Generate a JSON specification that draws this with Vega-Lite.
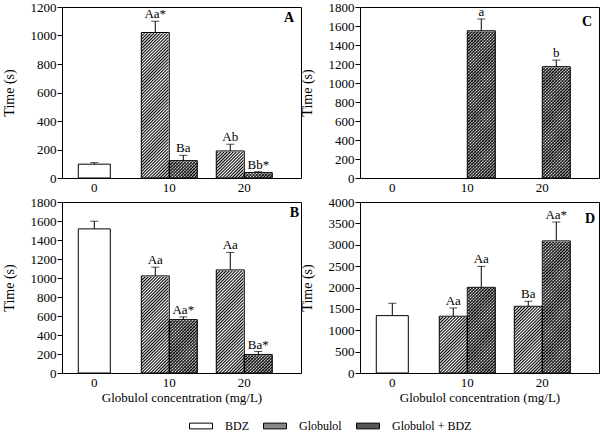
{
"$schema":"https://vega.github.io/schema/vega-lite/v6.json",
"background":"white",
"padding":{"left":1,"top":0,"right":2,"bottom":0},
"params":[{"name":"hatch","value":{"gradient":"linear","x1":0,"y1":0,"x2":0.1856,"y2":1.1334,"stops":[
{"offset":0,"color":"#000"},{"offset":0.0078,"color":"transparent"},{"offset":0.0156,"color":"#000"},{"offset":0.0234,"color":"transparent"},{"offset":0.0313,"color":"#000"},{"offset":0.0391,"color":"transparent"},{"offset":0.0469,"color":"#000"},{"offset":0.0547,"color":"transparent"},
{"offset":0.0625,"color":"#000"},{"offset":0.0703,"color":"transparent"},{"offset":0.0781,"color":"#000"},{"offset":0.0859,"color":"transparent"},{"offset":0.0938,"color":"#000"},{"offset":0.1016,"color":"transparent"},{"offset":0.1094,"color":"#000"},{"offset":0.1172,"color":"transparent"},
{"offset":0.125,"color":"#000"},{"offset":0.1328,"color":"transparent"},{"offset":0.1406,"color":"#000"},{"offset":0.1484,"color":"transparent"},{"offset":0.1563,"color":"#000"},{"offset":0.1641,"color":"transparent"},{"offset":0.1719,"color":"#000"},{"offset":0.1797,"color":"transparent"},
{"offset":0.1875,"color":"#000"},{"offset":0.1953,"color":"transparent"},{"offset":0.2031,"color":"#000"},{"offset":0.2109,"color":"transparent"},{"offset":0.2188,"color":"#000"},{"offset":0.2266,"color":"transparent"},{"offset":0.2344,"color":"#000"},{"offset":0.2422,"color":"transparent"},
{"offset":0.25,"color":"#000"},{"offset":0.2578,"color":"transparent"},{"offset":0.2656,"color":"#000"},{"offset":0.2734,"color":"transparent"},{"offset":0.2813,"color":"#000"},{"offset":0.2891,"color":"transparent"},{"offset":0.2969,"color":"#000"},{"offset":0.3047,"color":"transparent"},
{"offset":0.3125,"color":"#000"},{"offset":0.3203,"color":"transparent"},{"offset":0.3281,"color":"#000"},{"offset":0.3359,"color":"transparent"},{"offset":0.3438,"color":"#000"},{"offset":0.3516,"color":"transparent"},{"offset":0.3594,"color":"#000"},{"offset":0.3672,"color":"transparent"},
{"offset":0.375,"color":"#000"},{"offset":0.3828,"color":"transparent"},{"offset":0.3906,"color":"#000"},{"offset":0.3984,"color":"transparent"},{"offset":0.4063,"color":"#000"},{"offset":0.4141,"color":"transparent"},{"offset":0.4219,"color":"#000"},{"offset":0.4297,"color":"transparent"},
{"offset":0.4375,"color":"#000"},{"offset":0.4453,"color":"transparent"},{"offset":0.4531,"color":"#000"},{"offset":0.4609,"color":"transparent"},{"offset":0.4688,"color":"#000"},{"offset":0.4766,"color":"transparent"},{"offset":0.4844,"color":"#000"},{"offset":0.4922,"color":"transparent"},
{"offset":0.5,"color":"#000"},{"offset":0.5078,"color":"transparent"},{"offset":0.5156,"color":"#000"},{"offset":0.5234,"color":"transparent"},{"offset":0.5313,"color":"#000"},{"offset":0.5391,"color":"transparent"},{"offset":0.5469,"color":"#000"},{"offset":0.5547,"color":"transparent"},
{"offset":0.5625,"color":"#000"},{"offset":0.5703,"color":"transparent"},{"offset":0.5781,"color":"#000"},{"offset":0.5859,"color":"transparent"},{"offset":0.5938,"color":"#000"},{"offset":0.6016,"color":"transparent"},{"offset":0.6094,"color":"#000"},{"offset":0.6172,"color":"transparent"},
{"offset":0.625,"color":"#000"},{"offset":0.6328,"color":"transparent"},{"offset":0.6406,"color":"#000"},{"offset":0.6484,"color":"transparent"},{"offset":0.6563,"color":"#000"},{"offset":0.6641,"color":"transparent"},{"offset":0.6719,"color":"#000"},{"offset":0.6797,"color":"transparent"},
{"offset":0.6875,"color":"#000"},{"offset":0.6953,"color":"transparent"},{"offset":0.7031,"color":"#000"},{"offset":0.7109,"color":"transparent"},{"offset":0.7188,"color":"#000"},{"offset":0.7266,"color":"transparent"},{"offset":0.7344,"color":"#000"},{"offset":0.7422,"color":"transparent"},
{"offset":0.75,"color":"#000"},{"offset":0.7578,"color":"transparent"},{"offset":0.7656,"color":"#000"},{"offset":0.7734,"color":"transparent"},{"offset":0.7813,"color":"#000"},{"offset":0.7891,"color":"transparent"},{"offset":0.7969,"color":"#000"},{"offset":0.8047,"color":"transparent"},
{"offset":0.8125,"color":"#000"},{"offset":0.8203,"color":"transparent"},{"offset":0.8281,"color":"#000"},{"offset":0.8359,"color":"transparent"},{"offset":0.8438,"color":"#000"},{"offset":0.8516,"color":"transparent"},{"offset":0.8594,"color":"#000"},{"offset":0.8672,"color":"transparent"},
{"offset":0.875,"color":"#000"},{"offset":0.8828,"color":"transparent"},{"offset":0.8906,"color":"#000"},{"offset":0.8984,"color":"transparent"},{"offset":0.9063,"color":"#000"},{"offset":0.9141,"color":"transparent"},{"offset":0.9219,"color":"#000"},{"offset":0.9297,"color":"transparent"},
{"offset":0.9375,"color":"#000"},{"offset":0.9453,"color":"transparent"},{"offset":0.9531,"color":"#000"},{"offset":0.9609,"color":"transparent"},{"offset":0.9688,"color":"#000"},{"offset":0.9766,"color":"transparent"},{"offset":0.9844,"color":"#000"},{"offset":0.9922,"color":"transparent"},
{"offset":1,"color":"#000"}]}}],
"data":{"values":[
{"p":"A","c":"0","s":"BDZ","m":97,"h":108,"l":""},
{"p":"A","c":"10","s":"Globulol","m":1021,"h":1100,"l":"Aa*"},
{"p":"A","c":"10","s":"Globulol + BDZ","m":122,"h":159,"l":"Ba"},
{"p":"A","c":"20","s":"Globulol","m":190,"h":237,"l":"Ab"},
{"p":"A","c":"20","s":"Globulol + BDZ","m":38,"h":44,"l":"Bb*"},
{"p":"B","c":"0","s":"BDZ","m":1517,"h":1598,"l":""},
{"p":"B","c":"10","s":"Globulol","m":1022,"h":1114,"l":"Aa"},
{"p":"B","c":"10","s":"Globulol + BDZ","m":562,"h":590,"l":"Aa*"},
{"p":"B","c":"20","s":"Globulol","m":1085,"h":1269,"l":"Aa"},
{"p":"B","c":"20","s":"Globulol + BDZ","m":194,"h":226,"l":"Ba*"},
{"p":"C","c":"10","s":"Globulol + BDZ","m":1550,"h":1674,"l":"a"},
{"p":"C","c":"20","s":"Globulol + BDZ","m":1172,"h":1241,"l":"b"},
{"p":"D","c":"0","s":"BDZ","m":1342,"h":1631,"l":""},
{"p":"D","c":"10","s":"Globulol","m":1328,"h":1521,"l":"Aa"},
{"p":"D","c":"10","s":"Globulol + BDZ","m":2004,"h":2493,"l":"Aa"},
{"p":"D","c":"20","s":"Globulol","m":1561,"h":1678,"l":"Ba"},
{"p":"D","c":"20","s":"Globulol + BDZ","m":3090,"h":3532,"l":"Aa*"}
]},
"columns":2,
"bounds":"flush",
"spacing":{"row":24,"column":59},
"concat":[
{"width":239,"height":171,"title":{"text":"A","dx":-7,"offset":-24},
"transform":[{"filter":"datum.p==='A'"}],
"resolve":{"scale":{"xOffset":"independent"}},
"encoding":{"x":{"field":"c","type":"nominal","scale":{"domain":["0","10","20"],"paddingInner":0.253,"paddingOuter":0.22,"align":0.13},"axis":{"title":null}},
"y":{"field":"m","type":"quantitative","title":"Time (s)","scale":{"domain":[0,1200],"nice":false},"axis":{"values":[0,200,400,600,800,1000,1200],"format":"d","titleFontWeight":"normal"}}},
"layer":[
{"transform":[{"filter":"datum.s==='BDZ'"}],"mark":{"type":"bar","stroke":"black","strokeWidth":1},
 "encoding":{"xOffset":{"field":"s","scale":{"type":"band","domain":["BDZ"],"paddingInner":0,"paddingOuter":0.375}},"fill":{"field":"s","type":"nominal","scale":{"domain":["BDZ","Globulol","Globulol + BDZ"],"range":["white","#888","#555"]},
 "legend":{"title":null,"encode":{"symbols":{"update":{"fill":[{"test":"datum.value==='Globulol'","signal":"merge(hatch,{x2:8.1,y2:2.02})"},{"test":"datum.value==='Globulol + BDZ'","signal":"merge(hatch,{x2:4.05,y2:1.01})"},{"value":"white"}],"stroke":{"value":"black"}}}}}}}},
{"transform":[{"filter":"datum.s!=='BDZ'"}],"mark":{"type":"bar","fill":{"expr":"hatch"}},"encoding":{"xOffset":{"field":"s","scale":{"type":"band","domain":["Globulol","Globulol + BDZ"],"paddingInner":0,"paddingOuter":0}},"y":{"datum":0},"y2":{"datum":1188}}},
{"transform":[{"filter":"datum.s==='Globulol + BDZ'"}],"mark":{"type":"bar","fill":{"expr":"merge(hatch,{y1:1,y2:-0.1334})"},"opacity":0.6},"encoding":{"xOffset":{"field":"s","scale":{"type":"band","domain":["Globulol","Globulol + BDZ"],"paddingInner":0,"paddingOuter":0}},"y":{"datum":0},"y2":{"datum":1188}}},
{"transform":[{"filter":"datum.s!=='BDZ'"}],"mark":{"type":"bar","fill":"white","stroke":"white","strokeWidth":1.5},"encoding":{"xOffset":{"field":"s","scale":{"type":"band","domain":["Globulol","Globulol + BDZ"],"paddingInner":0,"paddingOuter":0}},"y2":{"datum":1188}}},
{"transform":[{"filter":"datum.s!=='BDZ'"}],"mark":{"type":"bar","fill":"transparent","stroke":"black","strokeWidth":1},"encoding":{"xOffset":{"field":"s","scale":{"type":"band","domain":["Globulol","Globulol + BDZ"],"paddingInner":0,"paddingOuter":0}}}},
{"transform":[{"filter":"datum.s!=='BDZ'"}],"mark":{"type":"rule","color":"black"},"encoding":{"xOffset":{"field":"s","scale":{"type":"band","domain":["Globulol","Globulol + BDZ"],"paddingInner":0,"paddingOuter":0}},"y2":{"field":"h"}}},
{"transform":[{"filter":"datum.s!=='BDZ'"}],"mark":{"type":"tick","color":"black","size":8,"thickness":1},"encoding":{"xOffset":{"field":"s","scale":{"type":"band","domain":["Globulol","Globulol + BDZ"],"paddingInner":0,"paddingOuter":0}},"y":{"field":"h","type":"quantitative"}}},
{"transform":[{"filter":"datum.s!=='BDZ'"}],"mark":{"type":"text","baseline":"alphabetic","dy":-3,"fontSize":13,"color":"black"},"encoding":{"xOffset":{"field":"s","scale":{"type":"band","domain":["Globulol","Globulol + BDZ"],"paddingInner":0,"paddingOuter":0}},"y":{"field":"h","type":"quantitative"},"text":{"field":"l"}}},
{"transform":[{"filter":"datum.s==='BDZ'"}],"mark":{"type":"rule","color":"black"},"encoding":{"xOffset":{"field":"s","scale":{"type":"band","domain":["BDZ"],"paddingInner":0,"paddingOuter":0.375}},"y2":{"field":"h"}}},
{"transform":[{"filter":"datum.s==='BDZ'"}],"mark":{"type":"tick","color":"black","size":8,"thickness":1},"encoding":{"xOffset":{"field":"s","scale":{"type":"band","domain":["BDZ"],"paddingInner":0,"paddingOuter":0.375}},"y":{"field":"h","type":"quantitative"}}}
]},
{"width":239,"height":171,"title":{"text":"C","dx":-7,"offset":-28},
"transform":[{"filter":"datum.p==='C'"}],
"resolve":{"scale":{"xOffset":"independent"}},
"encoding":{"x":{"field":"c","type":"nominal","scale":{"domain":["0","10","20"],"paddingInner":0.253,"paddingOuter":0.22,"align":0.13},"axis":{"title":null}},
"y":{"field":"m","type":"quantitative","title":"Time (s)","scale":{"domain":[0,1800],"nice":false},"axis":{"values":[0,200,400,600,800,1000,1200,1400,1600,1800],"format":"d","titleFontWeight":"normal"}}},
"layer":[
{"transform":[{"filter":"datum.s!=='BDZ'"}],"mark":{"type":"bar","fill":{"expr":"hatch"}},"encoding":{"xOffset":{"field":"s","scale":{"type":"band","domain":["Globulol","Globulol + BDZ"],"paddingInner":0,"paddingOuter":0}},"y":{"datum":0},"y2":{"datum":1782}}},
{"transform":[{"filter":"datum.s==='Globulol + BDZ'"}],"mark":{"type":"bar","fill":{"expr":"merge(hatch,{y1:1,y2:-0.1334})"},"opacity":0.6},"encoding":{"xOffset":{"field":"s","scale":{"type":"band","domain":["Globulol","Globulol + BDZ"],"paddingInner":0,"paddingOuter":0}},"y":{"datum":0},"y2":{"datum":1782}}},
{"transform":[{"filter":"datum.s!=='BDZ'"}],"mark":{"type":"bar","fill":"white","stroke":"white","strokeWidth":1.5},"encoding":{"xOffset":{"field":"s","scale":{"type":"band","domain":["Globulol","Globulol + BDZ"],"paddingInner":0,"paddingOuter":0}},"y2":{"datum":1782}}},
{"transform":[{"filter":"datum.s!=='BDZ'"}],"mark":{"type":"bar","fill":"transparent","stroke":"black","strokeWidth":1},"encoding":{"xOffset":{"field":"s","scale":{"type":"band","domain":["Globulol","Globulol + BDZ"],"paddingInner":0,"paddingOuter":0}}}},
{"transform":[{"filter":"datum.s!=='BDZ'"}],"mark":{"type":"rule","color":"black"},"encoding":{"xOffset":{"field":"s","scale":{"type":"band","domain":["Globulol","Globulol + BDZ"],"paddingInner":0,"paddingOuter":0}},"y2":{"field":"h"}}},
{"transform":[{"filter":"datum.s!=='BDZ'"}],"mark":{"type":"tick","color":"black","size":8,"thickness":1},"encoding":{"xOffset":{"field":"s","scale":{"type":"band","domain":["Globulol","Globulol + BDZ"],"paddingInner":0,"paddingOuter":0}},"y":{"field":"h","type":"quantitative"}}},
{"transform":[{"filter":"datum.s!=='BDZ'"}],"mark":{"type":"text","baseline":"alphabetic","dy":-3,"fontSize":13,"color":"black"},"encoding":{"xOffset":{"field":"s","scale":{"type":"band","domain":["Globulol","Globulol + BDZ"],"paddingInner":0,"paddingOuter":0}},"y":{"field":"h","type":"quantitative"},"text":{"field":"l"}}}
]},
{"width":239,"height":171,"title":{"text":"B","dx":-2,"offset":-24},
"transform":[{"filter":"datum.p==='B'"}],
"resolve":{"scale":{"xOffset":"independent"}},
"encoding":{"x":{"field":"c","type":"nominal","scale":{"domain":["0","10","20"],"paddingInner":0.253,"paddingOuter":0.22,"align":0.13},"axis":{"title":"Globulol concentration (mg/L)"}},
"y":{"field":"m","type":"quantitative","title":"Time (s)","scale":{"domain":[0,1800],"nice":false},"axis":{"values":[0,200,400,600,800,1000,1200,1400,1600,1800],"format":"d","titleFontWeight":"normal"}}},
"layer":[
{"transform":[{"filter":"datum.s==='BDZ'"}],"mark":{"type":"bar","fill":"white","stroke":"black","strokeWidth":1},"encoding":{"xOffset":{"field":"s","scale":{"type":"band","domain":["BDZ"],"paddingInner":0,"paddingOuter":0.375}}}},
{"transform":[{"filter":"datum.s!=='BDZ'"}],"mark":{"type":"bar","fill":{"expr":"hatch"}},"encoding":{"xOffset":{"field":"s","scale":{"type":"band","domain":["Globulol","Globulol + BDZ"],"paddingInner":0,"paddingOuter":0}},"y":{"datum":0},"y2":{"datum":1782}}},
{"transform":[{"filter":"datum.s==='Globulol + BDZ'"}],"mark":{"type":"bar","fill":{"expr":"merge(hatch,{y1:1,y2:-0.1334})"},"opacity":0.6},"encoding":{"xOffset":{"field":"s","scale":{"type":"band","domain":["Globulol","Globulol + BDZ"],"paddingInner":0,"paddingOuter":0}},"y":{"datum":0},"y2":{"datum":1782}}},
{"transform":[{"filter":"datum.s!=='BDZ'"}],"mark":{"type":"bar","fill":"white","stroke":"white","strokeWidth":1.5},"encoding":{"xOffset":{"field":"s","scale":{"type":"band","domain":["Globulol","Globulol + BDZ"],"paddingInner":0,"paddingOuter":0}},"y2":{"datum":1782}}},
{"transform":[{"filter":"datum.s!=='BDZ'"}],"mark":{"type":"bar","fill":"transparent","stroke":"black","strokeWidth":1},"encoding":{"xOffset":{"field":"s","scale":{"type":"band","domain":["Globulol","Globulol + BDZ"],"paddingInner":0,"paddingOuter":0}}}},
{"transform":[{"filter":"datum.s!=='BDZ'"}],"mark":{"type":"rule","color":"black"},"encoding":{"xOffset":{"field":"s","scale":{"type":"band","domain":["Globulol","Globulol + BDZ"],"paddingInner":0,"paddingOuter":0}},"y2":{"field":"h"}}},
{"transform":[{"filter":"datum.s!=='BDZ'"}],"mark":{"type":"tick","color":"black","size":8,"thickness":1},"encoding":{"xOffset":{"field":"s","scale":{"type":"band","domain":["Globulol","Globulol + BDZ"],"paddingInner":0,"paddingOuter":0}},"y":{"field":"h","type":"quantitative"}}},
{"transform":[{"filter":"datum.s!=='BDZ'"}],"mark":{"type":"text","baseline":"alphabetic","dy":-3,"fontSize":13,"color":"black"},"encoding":{"xOffset":{"field":"s","scale":{"type":"band","domain":["Globulol","Globulol + BDZ"],"paddingInner":0,"paddingOuter":0}},"y":{"field":"h","type":"quantitative"},"text":{"field":"l"}}},
{"transform":[{"filter":"datum.s==='BDZ'"}],"mark":{"type":"rule","color":"black"},"encoding":{"xOffset":{"field":"s","scale":{"type":"band","domain":["BDZ"],"paddingInner":0,"paddingOuter":0.375}},"y2":{"field":"h"}}},
{"transform":[{"filter":"datum.s==='BDZ'"}],"mark":{"type":"tick","color":"black","size":8,"thickness":1},"encoding":{"xOffset":{"field":"s","scale":{"type":"band","domain":["BDZ"],"paddingInner":0,"paddingOuter":0.375}},"y":{"field":"h","type":"quantitative"}}}
]},
{"width":239,"height":171,"title":{"text":"D","dx":-4,"offset":-30},
"transform":[{"filter":"datum.p==='D'"}],
"resolve":{"scale":{"xOffset":"independent"}},
"encoding":{"x":{"field":"c","type":"nominal","scale":{"domain":["0","10","20"],"paddingInner":0.253,"paddingOuter":0.22,"align":0.13},"axis":{"title":"Globulol concentration (mg/L)"}},
"y":{"field":"m","type":"quantitative","title":"Time (s)","scale":{"domain":[0,4000],"nice":false},"axis":{"values":[0,500,1000,1500,2000,2500,3000,3500,4000],"format":"d","titleFontWeight":"normal"}}},
"layer":[
{"transform":[{"filter":"datum.s==='BDZ'"}],"mark":{"type":"bar","fill":"white","stroke":"black","strokeWidth":1},"encoding":{"xOffset":{"field":"s","scale":{"type":"band","domain":["BDZ"],"paddingInner":0,"paddingOuter":0.375}}}},
{"transform":[{"filter":"datum.s!=='BDZ'"}],"mark":{"type":"bar","fill":{"expr":"hatch"}},"encoding":{"xOffset":{"field":"s","scale":{"type":"band","domain":["Globulol","Globulol + BDZ"],"paddingInner":0,"paddingOuter":0}},"y":{"datum":0},"y2":{"datum":3960}}},
{"transform":[{"filter":"datum.s==='Globulol + BDZ'"}],"mark":{"type":"bar","fill":{"expr":"merge(hatch,{y1:1,y2:-0.1334})"},"opacity":0.6},"encoding":{"xOffset":{"field":"s","scale":{"type":"band","domain":["Globulol","Globulol + BDZ"],"paddingInner":0,"paddingOuter":0}},"y":{"datum":0},"y2":{"datum":3960}}},
{"transform":[{"filter":"datum.s!=='BDZ'"}],"mark":{"type":"bar","fill":"white","stroke":"white","strokeWidth":1.5},"encoding":{"xOffset":{"field":"s","scale":{"type":"band","domain":["Globulol","Globulol + BDZ"],"paddingInner":0,"paddingOuter":0}},"y2":{"datum":3960}}},
{"transform":[{"filter":"datum.s!=='BDZ'"}],"mark":{"type":"bar","fill":"transparent","stroke":"black","strokeWidth":1},"encoding":{"xOffset":{"field":"s","scale":{"type":"band","domain":["Globulol","Globulol + BDZ"],"paddingInner":0,"paddingOuter":0}}}},
{"transform":[{"filter":"datum.s!=='BDZ'"}],"mark":{"type":"rule","color":"black"},"encoding":{"xOffset":{"field":"s","scale":{"type":"band","domain":["Globulol","Globulol + BDZ"],"paddingInner":0,"paddingOuter":0}},"y2":{"field":"h"}}},
{"transform":[{"filter":"datum.s!=='BDZ'"}],"mark":{"type":"tick","color":"black","size":8,"thickness":1},"encoding":{"xOffset":{"field":"s","scale":{"type":"band","domain":["Globulol","Globulol + BDZ"],"paddingInner":0,"paddingOuter":0}},"y":{"field":"h","type":"quantitative"}}},
{"transform":[{"filter":"datum.s!=='BDZ'"}],"mark":{"type":"text","baseline":"alphabetic","dy":-3,"fontSize":13,"color":"black"},"encoding":{"xOffset":{"field":"s","scale":{"type":"band","domain":["Globulol","Globulol + BDZ"],"paddingInner":0,"paddingOuter":0}},"y":{"field":"h","type":"quantitative"},"text":{"field":"l"}}},
{"transform":[{"filter":"datum.s==='BDZ'"}],"mark":{"type":"rule","color":"black"},"encoding":{"xOffset":{"field":"s","scale":{"type":"band","domain":["BDZ"],"paddingInner":0,"paddingOuter":0.375}},"y2":{"field":"h"}}},
{"transform":[{"filter":"datum.s==='BDZ'"}],"mark":{"type":"tick","color":"black","size":8,"thickness":1},"encoding":{"xOffset":{"field":"s","scale":{"type":"band","domain":["BDZ"],"paddingInner":0,"paddingOuter":0.375}},"y":{"field":"h","type":"quantitative"}}}
]}
],
"config":{
"font":"Liberation Serif",
"view":{"stroke":"black","strokeWidth":1},
"axis":{"labelFont":"Liberation Serif","labelFontSize":13,"labelColor":"black","titleFont":"Liberation Serif","titleFontSize":14,"titleFontWeight":"normal","titleColor":"black","domain":false,"tickColor":"black","grid":false},
"axisX":{"ticks":false,"labelPadding":3,"labelAngle":0,"titlePadding":2,"titleFontSize":13},
"axisY":{"tickSize":5,"labelPadding":1,"titlePadding":14,"titleFontWeight":"normal"},
"title":{"anchor":"end","frame":"group","baseline":"middle","font":"Liberation Serif","fontSize":14,"fontWeight":"bold","color":"black"},
"legend":{"orient":"none","legendX":127,"legendY":407,"padding":0,"direction":"horizontal","labelFont":"Liberation Serif","labelFontSize":12,"labelColor":"black","symbolType":"M-1,-0.25H1V0.25H-1Z","symbolSize":529,"symbolStrokeColor":"black","symbolStrokeWidth":1,"labelOffset":12,"columnPadding":12}
}
}
